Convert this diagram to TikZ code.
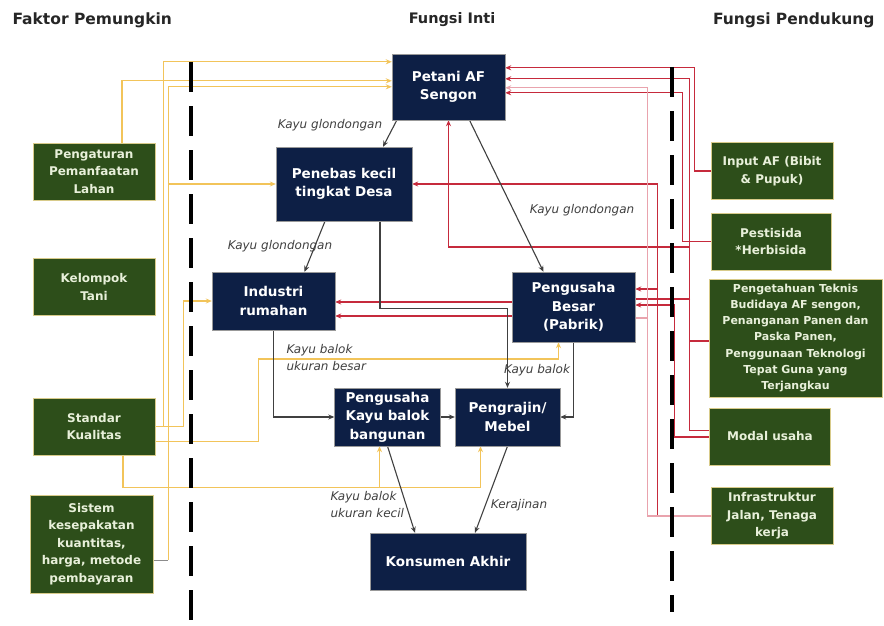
\documentclass[tikz,border=0pt]{standalone}
\usepackage{fontspec}
\setmainfont{DejaVu Sans}[ItalicFont={DejaVu Sans Oblique}, BoldFont={DejaVu Sans Bold}]
\usetikzlibrary{arrows.meta, calc, backgrounds}

\definecolor{corefill}{HTML}{0D1F45}
\definecolor{greenfill}{HTML}{2D4E1A}
\definecolor{greentext}{HTML}{E8F0DA}
\definecolor{edgecream}{HTML}{D8CB8A}
\definecolor{linkyellow}{HTML}{F2C45A}
\definecolor{linkred}{HTML}{C62A3C}
\definecolor{linkpink}{HTML}{E9A3AD}

\begin{document}
\begin{tikzpicture}[x=1pt, y=-1pt,
  core/.style={draw=black!40, fill=corefill, text=white,
    font=\fontsize{13.5}{18.5}\selectfont\bfseries, align=center, inner sep=1pt},
  enabler/.style={draw=edgecream, fill=greenfill, text=greentext,
    font=\fontsize{12}{17.5}\selectfont\bfseries, align=center, inner sep=1pt},
  heading/.style={font=\fontsize{15.5}{18}\selectfont\bfseries, text=black!85},
  flowtag/.style={font=\fontsize{12}{17}\selectfont\itshape, text=black!75, align=left},
  flow/.style={draw=black!75, line width=1.1pt, -{Stealth[length=6pt, width=5pt]}},
  ylink/.style={draw=linkyellow, line width=1.3pt, -{Stealth[length=6pt, width=5pt]}},
  rlink/.style={draw=linkred, line width=1.1pt, -{Stealth[length=6pt, width=5pt]}},
  plink/.style={rlink, draw=linkpink},
  divider/.style={black, line width=3.8pt, dash pattern=on 30pt off 14pt}
]
\useasboundingbox (0,0) rectangle (884,626);

%% --- column headings ---
\node[heading, anchor=west] (hleft) at (9,20) {Faktor Pemungkin};
\node[heading, font=\fontsize{14.5}{17}\selectfont\bfseries] (hmid) at (452,20) {Fungsi Inti};
\node[heading, anchor=east] (hright) at (878,20) {Fungsi Pendukung};

%% --- core chain ---
\node[core, minimum width=113pt, minimum height=66pt] (petani) at (448.5,87) {Petani AF\\Sengon};
\node[core, minimum width=136pt, minimum height=74pt] (penebas) at (344,184) {Penebas kecil\\tingkat Desa};
\node[core, minimum width=123pt, minimum height=58pt] (industri) at (273.5,301) {Industri\\rumahan};
\node[core, minimum width=123pt, minimum height=70pt] (besar) at (573.5,307) {Pengusaha\\Besar\\(Pabrik)};
\node[core, minimum width=106pt, minimum height=58pt] (bangunan) at (387.5,417) {Pengusaha\\Kayu balok\\bangunan};
\node[core, minimum width=105pt, minimum height=58pt] (mebel) at (507.5,417) {Pengrajin/\\Mebel};
\node[core, minimum width=156pt, minimum height=57pt] (konsumen) at (448,561.5) {Konsumen Akhir};

%% --- enabling factors (left) ---
\node[enabler, minimum width=122pt, minimum height=57pt] (lahan) at (94,171.5) {Pengaturan\\Pemanfaatan\\Lahan};
\node[enabler, minimum width=122pt, minimum height=57pt] (tani) at (94,287) {Kelompok\\Tani};
\node[enabler, minimum width=122pt, minimum height=57pt] (standar) at (94,426.5) {Standar\\Kualitas};
\node[enabler, minimum width=123pt, minimum height=98pt] (sistem) at (91.5,544) {Sistem\\kesepakatan\\kuantitas,\\harga, metode\\pembayaran};

%% --- supporting functions (right) ---
\node[enabler, minimum width=122pt, minimum height=57pt] (input) at (772,171) {Input AF (Bibit\\\& Pupuk)};
\node[enabler, minimum width=120pt, minimum height=57pt] (pestisida) at (771,241.5) {Pestisida\\*Herbisida};
\node[enabler, minimum width=173pt, minimum height=118pt,
  font=\fontsize{11}{16.3}\selectfont\bfseries] (teknis) at (795.5,338)
  {Pengetahuan Teknis\\Budidaya AF sengon,\\Penanganan Panen dan\\Paska Panen,\\Penggunaan Teknologi\\Tepat Guna yang\\Terjangkau};
\node[enabler, minimum width=121pt, minimum height=57pt] (modal) at (770,436.5) {Modal usaha};
\node[enabler, minimum width=122pt, minimum height=57pt] (infra) at (772,516) {Infrastruktur\\Jalan, Tenaga\\kerja};

%% --- product labels ---
\node[flowtag] (tg1) at (330,125) {Kayu glondongan};
\node[flowtag] (tg2) at (582,210) {Kayu glondongan};
\node[flowtag] (tg3) at (280,246) {Kayu glondongan};
\node[flowtag, anchor=west] (tg4) at (283,358) {Kayu balok\\ukuran besar};
\node[flowtag] (tg5) at (537,370) {Kayu balok};
\node[flowtag, anchor=west] (tg6) at (327,505) {Kayu balok\\ukuran kecil};
\node[flowtag] (tg7) at (519,505) {Kerajinan};

%% --- bus points on the support side ---
\coordinate (busP) at (690,247);

\begin{scope}[on background layer]
\fill[white] (0,0) rectangle (884,626);

%% --- enabling links (yellow) ---
\draw[ylink] ([xshift=28pt]lahan.north) |- ([yshift=-27pt]petani.north west);
\draw[ylink] (standar.east) -- ++(8,0) |- ([yshift=-8pt]petani.north west);
\draw[ylink] (standar.east) -- ++(28,0) |- (industri.west);
\draw[ylink] ([yshift=-15pt]standar.east) -| ++(103,-82.5) -| ([xshift=-15pt]besar.south);
\draw[ylink] ([xshift=29pt]standar.south) -- ++(0,32) -| ([xshift=-27pt]mebel.south);
\draw[ylink] ([xshift=-8pt]bangunan.south) ++(0,41) -- ([xshift=-8pt]bangunan.south);
\draw[ylink] ([yshift=-16pt]sistem.east) ++(15,0) |- ([yshift=-33pt]petani.north west);
\draw[draw=black!45, line width=1pt] ([yshift=-16pt]sistem.east) -- ++(15,0);
\draw[ylink] ([xshift=-108pt]penebas.west) -- (penebas.west);

%% --- supporting links (red) ---
\draw[rlink] (input.west) -- ++(-16,0) |- ([yshift=-14pt]petani.north east);
\draw[rlink] (pestisida.west) -- ++(-28,0) |- ([yshift=-39pt]petani.north east);
\draw[rlink] ([yshift=6pt]modal.west) -- ++(-19.5,0) |- ([yshift=-25pt]petani.north east);
\draw[rlink, -] ([yshift=-3pt]teknis.west) -- ++(-19,0);
\draw[rlink] (busP) -| (petani.south);
\draw[rlink] ([yshift=-0.5pt]modal.west) -- ++(-34.5,0) |- ([yshift=2pt]besar.east);
\draw[rlink, -] ([xshift=55pt, yshift=8pt]besar.east) -- ([yshift=8pt]besar.east);
\draw[rlink] (infra.west) -- ++(-53,0) |- (penebas.east);
\draw[rlink] ([xshift=23pt, yshift=18pt]besar.east) -- ([yshift=18pt]besar.east);
\draw[plink] (infra.west) -- ++(-63,0) |- ([yshift=-34pt]petani.north east);
\draw[plink, -] ([xshift=13pt, yshift=-11pt]besar.east) -- ([yshift=-11pt]besar.east);
\draw[rlink] ([yshift=5pt]besar.west) -- ([yshift=-1pt]industri.east);
\draw[rlink] ([yshift=-9pt]besar.west) -- ([yshift=-15pt]industri.east);

%% --- core flows ---
\draw[flow] ([xshift=5pt]petani.south west) -- ([xshift=39pt]penebas.north);
\draw[flow] ([xshift=21pt]petani.south) -- ([xshift=-30pt]besar.north);
\draw[flow] ([xshift=-19pt]penebas.south) -- ([xshift=31pt]industri.north);
\draw[flow] ([xshift=36pt]penebas.south) -- ++(0,87) -| (mebel.north);
\draw[flow] (besar.south) |- (mebel.east);
\draw[flow] (industri.south) |- (bangunan.west);
\draw[flow] (bangunan.east) -- (mebel.west);
\draw[flow] (bangunan.south) -- ([xshift=-33pt]konsumen.north);
\draw[flow] (mebel.south) -- ([xshift=27pt]konsumen.north);

%% --- column dividers ---
\draw[divider] (191,62) -- (191,626);
\draw[divider] (672,67) -- (672,612);
\end{scope}

\end{tikzpicture}
\end{document}
